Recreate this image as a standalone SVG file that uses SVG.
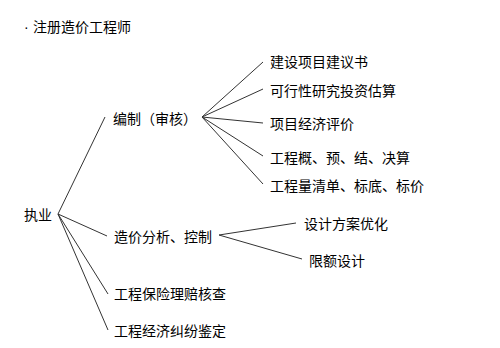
<svg xmlns="http://www.w3.org/2000/svg" width="500" height="348" viewBox="0 0 500 348">
<style>
text{font-family:"Noto Sans CJK SC","Noto Sans",sans-serif;font-size:14px;fill:#000}
.dot{font-family:"Liberation Sans",sans-serif}
.c line{stroke:#333;stroke-width:1;fill:none}
</style>
<rect width="500" height="348" fill="#fff"/>
<g id="title"><text><tspan class="dot" x="24" y="32">·</tspan><tspan x="33" y="32">注册造价工程师</tspan></text></g>
<g class="c" id="connectors">
<line x1="58" y1="214" x2="105" y2="117"/>
<line x1="58" y1="214" x2="107" y2="236"/>
<line x1="58" y1="214" x2="108" y2="294"/>
<line x1="58" y1="214" x2="108" y2="330"/>
<line x1="202" y1="117" x2="263" y2="62"/>
<line x1="202" y1="117" x2="263" y2="89"/>
<line x1="202" y1="117" x2="263" y2="123"/>
<line x1="202" y1="117" x2="263" y2="156"/>
<line x1="202" y1="117" x2="263" y2="184"/>
<line x1="219" y1="235" x2="296" y2="223"/>
<line x1="219" y1="235" x2="302" y2="259"/>
</g>
<g id="n-zhiye"><text x="24" y="219.5">执业</text></g>
<g id="n-bianzhi"><text x="113" y="124">编制（审核）</text></g>
<g id="n-zaojia"><text x="114" y="242">造价分析、控制</text></g>
<g id="n-baoxian"><text x="114" y="298.5">工程保险理赔核查</text></g>
<g id="n-jiufen"><text x="114" y="336">工程经济纠纷鉴定</text></g>
<g id="n-jianyi"><text x="270" y="67">建设项目建议书</text></g>
<g id="n-kexing"><text x="270" y="95.5">可行性研究投资估算</text></g>
<g id="n-pingjia"><text x="270" y="128.5">项目经济评价</text></g>
<g id="n-gaisuan"><text x="270" y="163">工程概、预、结、决算</text></g>
<g id="n-qingdan"><text x="270" y="190.5">工程量清单、标底、标价</text></g>
<g id="n-youhua"><text x="304" y="228.5">设计方案优化</text></g>
<g id="n-xiane"><text x="309" y="265.5">限额设计</text></g>
</svg>
